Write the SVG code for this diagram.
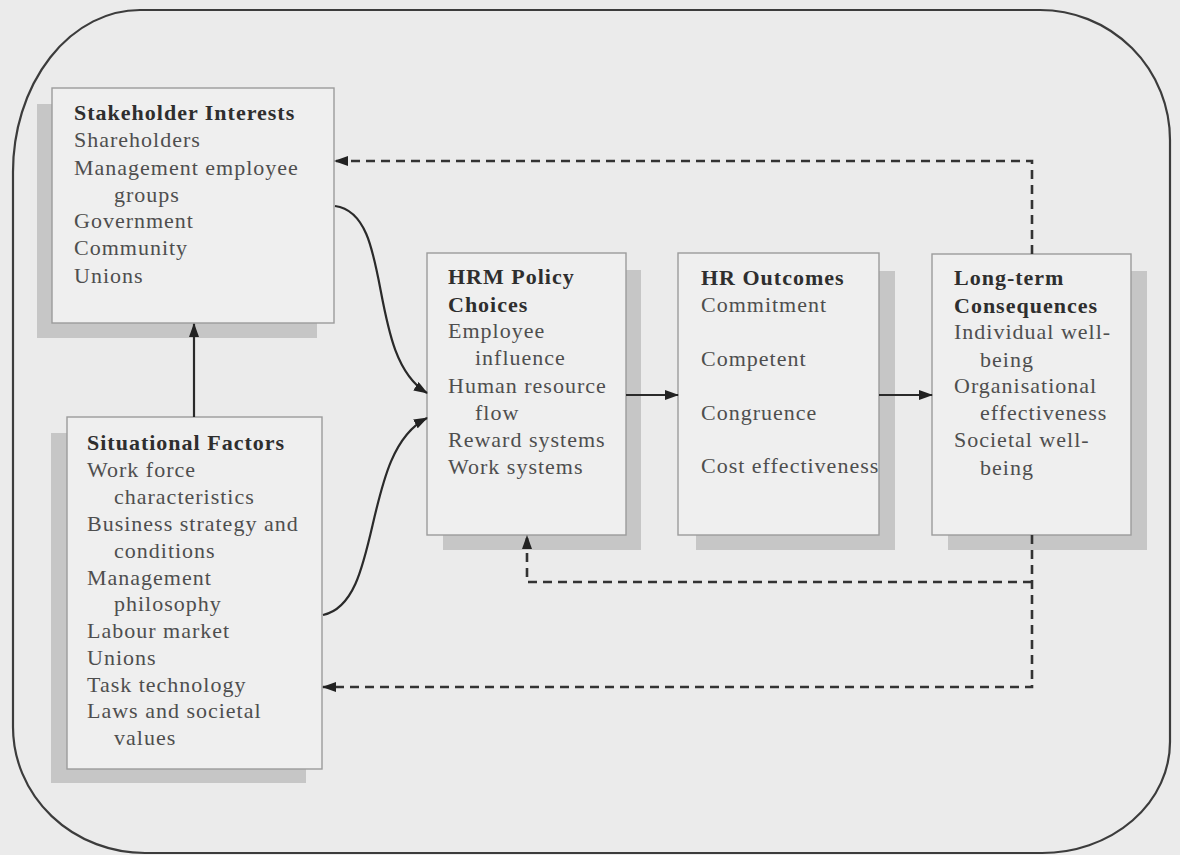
<svg xmlns="http://www.w3.org/2000/svg" width="1180" height="855" viewBox="0 0 1180 855">
  <style>
    .frame { fill: none; stroke: #3c3c3c; stroke-width: 2.2; }
    .shadow { fill: #c6c6c6; }
    .box { fill: #efefef; stroke: #9c9c9c; stroke-width: 1.4; }
    text { font-family: "Liberation Serif", "Times New Roman", serif; font-size: 22px; letter-spacing: 1px; fill: #4e4e4e; }
    .head { font-weight: bold; fill: #2e2e2e; }
    .solid { fill: none; stroke: #2a2a2a; stroke-width: 2.2; }
    .dash { fill: none; stroke: #333; stroke-width: 2.6; stroke-dasharray: 9 6; }
  </style>
  <defs>
    <marker id="head" viewBox="0 0 14 10" refX="13" refY="5" markerWidth="14" markerHeight="10" markerUnits="userSpaceOnUse" orient="auto">
      <path d="M0,0 L14,5 L0,10 Z" fill="#222"/>
    </marker>
  </defs>

  <rect width="1180" height="855" fill="#ebebeb"/>

  <!-- outer rounded border -->
  <path class="frame" d="M140,10 L1040,10 A130,130 0 0 1 1170,140 L1170,742 A128,111 0 0 1 1042,853 L145,853 A132,126 0 0 1 13,727 L13,172 A127,162 0 0 1 140,10 Z"/>

  <g id="stakeholder-interests">
    <rect class="shadow" x="37" y="104" width="280" height="234"/>
    <rect class="box" x="52" y="88" width="282" height="235"/>
    <text class="head" x="74" y="120">Stakeholder Interests</text>
    <text x="74" y="147">Shareholders</text>
    <text x="74" y="175">Management employee</text>
    <text x="114" y="202">groups</text>
    <text x="74" y="228">Government</text>
    <text x="74" y="255">Community</text>
    <text x="74" y="283">Unions</text>
  </g>

  <g id="situational-factors">
    <rect class="shadow" x="51" y="433" width="255" height="350"/>
    <rect class="box" x="67" y="417" width="255" height="352"/>
    <text class="head" x="87" y="450">Situational Factors</text>
    <text x="87" y="477">Work force</text>
    <text x="114" y="504">characteristics</text>
    <text x="87" y="531">Business strategy and</text>
    <text x="114" y="558">conditions</text>
    <text x="87" y="585">Management</text>
    <text x="114" y="611">philosophy</text>
    <text x="87" y="638">Labour market</text>
    <text x="87" y="665">Unions</text>
    <text x="87" y="692">Task technology</text>
    <text x="87" y="718">Laws and societal</text>
    <text x="114" y="745">values</text>
  </g>

  <g id="hrm-policy-choices">
    <rect class="shadow" x="443" y="270" width="198" height="280"/>
    <rect class="box" x="427" y="253" width="199" height="282"/>
    <text class="head" x="448" y="284">HRM Policy</text>
    <text class="head" x="448" y="312">Choices</text>
    <text x="448" y="338">Employee</text>
    <text x="475" y="365">influence</text>
    <text x="448" y="393">Human resource</text>
    <text x="475" y="420">flow</text>
    <text x="448" y="447">Reward systems</text>
    <text x="448" y="474">Work systems</text>
  </g>

  <g id="hr-outcomes">
    <rect class="shadow" x="696" y="271" width="199" height="279"/>
    <rect class="box" x="678" y="253" width="201" height="282"/>
    <text class="head" x="701" y="285">HR Outcomes</text>
    <text x="701" y="312">Commitment</text>
    <text x="701" y="366">Competent</text>
    <text x="701" y="420">Congruence</text>
    <text x="701" y="473">Cost effectiveness</text>
  </g>

  <g id="long-term-consequences">
    <rect class="shadow" x="948" y="271" width="199" height="279"/>
    <rect class="box" x="932" y="254" width="199" height="281"/>
    <text class="head" x="954" y="285">Long-term</text>
    <text class="head" x="954" y="313">Consequences</text>
    <text x="954" y="339">Individual well-</text>
    <text x="980" y="367">being</text>
    <text x="954" y="393">Organisational</text>
    <text x="980" y="420">effectiveness</text>
    <text x="954" y="447">Societal well-</text>
    <text x="980" y="475">being</text>
  </g>

  <g id="connectors">
    <!-- influences into policy choices -->
    <path class="solid" d="M335,206 C395,214 365,355 427,393" marker-end="url(#head)"/>
    <path class="solid" d="M323,615 C384,602 360,452 427,418" marker-end="url(#head)"/>
    <path class="solid" d="M194,417 L194,324" marker-end="url(#head)"/>
    <!-- main chain -->
    <path class="solid" d="M626,395 L678,395" marker-end="url(#head)"/>
    <path class="solid" d="M879,395 L932,395" marker-end="url(#head)"/>
    <!-- feedback loops -->
    <path class="dash" d="M1032,254 L1032,161 L335,161" marker-end="url(#head)"/>
    <path class="dash" d="M1032,535 L1032,687 L323,687" marker-end="url(#head)"/>
    <path class="dash" d="M1032,582 L527,582 L527,536" marker-end="url(#head)"/>
  </g>
</svg>
